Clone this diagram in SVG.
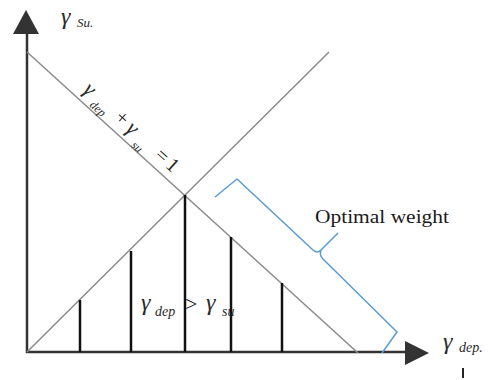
<svg xmlns="http://www.w3.org/2000/svg" width="490" height="380" viewBox="0 0 490 380">
<style>
.axis{stroke:#333;stroke-width:2.5;fill:none}
.diag{stroke:#8a8a8a;stroke-width:1.5;fill:none}
.bar{stroke:#111;stroke-width:2.5}
.brace{stroke:#5b9bd5;stroke-width:1.5;fill:none;stroke-linejoin:round}
.g{font-family:"Liberation Serif","DejaVu Serif",serif;font-style:italic;fill:#2a2a2a}
.t{font-family:"Liberation Serif","DejaVu Serif",serif;fill:#1a1a1a}
.head{fill:#333}
</style>
<rect width="490" height="380" fill="#fff"/>
<g id="connectors">
  <line class="axis" x1="27" y1="353" x2="27" y2="30"/>
  <polygon class="head" points="13,34 39,34 26,10"/>
  <line class="axis" x1="26" y1="352" x2="408" y2="352"/>
  <polygon class="head" points="405,341 405,365 429,353"/>
  <line class="diag" x1="27" y1="52" x2="358" y2="353"/>
  <line class="diag" x1="27" y1="352" x2="329" y2="52"/>
  <line class="bar" x1="80" y1="300" x2="80" y2="352"/>
  <line class="bar" x1="131" y1="251" x2="131" y2="352"/>
  <line class="bar" x1="185" y1="195" x2="185" y2="352"/>
  <line class="bar" x1="231" y1="237" x2="231" y2="352"/>
  <line class="bar" x1="282" y1="283" x2="282" y2="352"/>
  <path class="brace" d="M215,197 L237,179 L313,250 Q317,254 321,250 L338,233 M321,250 Q319,255 323,259 L397,332 L382,353"/>
  <line x1="463" y1="368" x2="463" y2="378" stroke="#222" stroke-width="2"/>
</g>
<g id="label-ysu">
  <text class="g" x="61" y="24" font-size="24">γ</text>
  <text class="g" x="77" y="27" font-size="13">Su.</text>
</g>
<g id="label-ydep">
  <text class="g" x="443" y="349" font-size="24">γ</text>
  <text class="g" x="459" y="352" font-size="14">dep.</text>
</g>
<g id="label-sum" transform="translate(27,52) rotate(42.3)">
  <text class="g" x="67" y="-8" font-size="22">γ</text>
  <text class="g" x="82" y="-2" font-size="12">dep</text>
  <text class="t" x="109" y="-9" font-size="20">+</text>
  <text class="g" x="125" y="-8" font-size="22">γ</text>
  <text class="g" x="140" y="0" font-size="12">su</text>
  <text class="t" x="164" y="-8" font-size="20">=</text>
  <text class="t" x="179" y="-8" font-size="20">1</text>
</g>
<g id="label-ineq">
  <text class="g" x="141" y="310" font-size="24">γ</text>
  <text class="g" x="155" y="316" font-size="14">dep</text>
  <text class="t" x="185" y="311" font-size="22">&gt;</text>
  <text class="g" x="206" y="310" font-size="24">γ</text>
  <text class="g" x="222" y="316" font-size="14">su</text>
</g>
<g id="label-optimal">
  <text class="t" x="315" y="223" font-size="19" textLength="134" lengthAdjust="spacingAndGlyphs">Optimal weight</text>
</g>
</svg>
